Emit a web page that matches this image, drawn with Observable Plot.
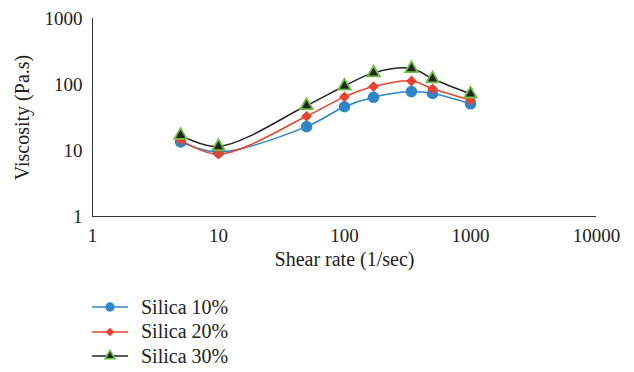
<!DOCTYPE html>
<html>
<head>
<meta charset="utf-8">
<script src="https://cdn.jsdelivr.net/npm/d3@7"></script>
<script src="https://cdn.jsdelivr.net/npm/@observablehq/plot@0.6"></script>
<style>
  html, body { margin: 0; padding: 0; background: #fff; }
  #chart { width: 634px; }
  .legend { font-family: "Liberation Serif", "DejaVu Serif", serif; font-size: 20px; color: #222; margin-left: 92px; margin-top: 10px; }
  .legend .row { display: flex; align-items: center; height: 24.5px; }
  .legend svg { margin-right: 13px; }
</style>
</head>
<body>
<div id="chart"></div>
<script>
const shearRate = [5, 10, 50, 100, 170, 340, 500, 1000];
const silica10 = [13.5, 9.5, 23, 46, 64, 78, 73, 51];
const silica20 = [14.5, 8.8, 33, 65, 93, 113, 86, 58];
const silica30 = [17, 11.5, 48, 95, 150, 175, 122, 72];
const seriesNames = ["Silica 10%", "Silica 20%", "Silica 30%"];
const xTicks = [1, 10, 100, 1000, 10000];
const yTicks = [1, 10, 100, 1000];

const lineColors = ["#2E86C8", "#E8432E", "#262626"];
const symbols = ["circle", "square", "triangle"];
const markRotate = [0, 45, 0];
const markFill = ["#2E86C8", "#E8432E", "#262626"];
const markStroke = ["#2E86C8", "#E8432E", "#6DBE45"];
const markR = [5.8, 4.3, 4.6];

const allValues = [silica10, silica20, silica30];
const series = seriesNames.map((name, i) =>
  shearRate.map((x, j) => ({ x, y: allValues[i][j], name }))
);

const font = "Liberation Serif, DejaVu Serif, serif";
const marks = [
  Plot.ruleX([1], { stroke: "#333", strokeWidth: 1 }),
  Plot.ruleY([1], { stroke: "#333", strokeWidth: 1 }),
  Plot.axisX({ ticks: xTicks, tickSize: 0, tickPadding: 12, tickFormat: d => String(d), label: null, fontSize: 19, fill: "#222" }),
  Plot.axisY({ ticks: yTicks, tickSize: 0, tickPadding: 10, tickFormat: d => String(d), label: null, fontSize: 19, fill: "#222" }),
  Plot.text(["Shear rate (1/sec)"], { frameAnchor: "bottom", dy: 49, fontSize: 20, fill: "#222", text: d => d }),
  Plot.text(["Viscosity (Pa.s)"], { frameAnchor: "left", textAnchor: "middle", dx: -70, rotate: -90, fontSize: 20, fill: "#222", text: d => d })
];
series.forEach((s, i) => {
  marks.push(Plot.line(s, { x: "x", y: "y", stroke: lineColors[i], strokeWidth: 1.5, curve: "catmull-rom" }));
  marks.push(Plot.dot(s, { x: "x", y: "y", symbol: () => symbols[i], rotate: markRotate[i], r: markR[i], fill: markFill[i], stroke: markStroke[i], strokeWidth: i === 2 ? 1.8 : 0 }));
});

const plot = Plot.plot({
  width: 634,
  height: 285,
  marginLeft: 92,
  marginRight: 38,
  marginTop: 18,
  marginBottom: 69,
  style: { fontFamily: font, background: "#fff", overflow: "visible" },
  x: { type: "log", domain: [1, 10000] },
  y: { type: "log", domain: [1, 1000] },
  marks
});
document.getElementById("chart").append(plot);

const legend = d3.select("#chart").append("div").attr("class", "legend");
seriesNames.forEach((name, i) => {
  const row = legend.append("div").attr("class", "row");
  const svg = row.append("svg").attr("width", 36).attr("height", 20);
  svg.append("line").attr("x1", 0).attr("x2", 36).attr("y1", 10).attr("y2", 10)
    .attr("stroke", lineColors[i]).attr("stroke-width", 1.5);
  const sym = { circle: d3.symbolCircle, square: d3.symbolSquare, triangle: d3.symbolTriangle }[symbols[i]];
  const r = markR[i] * 0.8;
  svg.append("path").attr("d", d3.symbol(sym, Math.PI * r * r)())
    .attr("transform", `translate(18,10) rotate(${markRotate[i]})`)
    .attr("fill", markFill[i]).attr("stroke", markStroke[i]).attr("stroke-width", i === 2 ? 1.5 : 0);
  row.append("span").text(name);
});
</script>
</body>
</html>
